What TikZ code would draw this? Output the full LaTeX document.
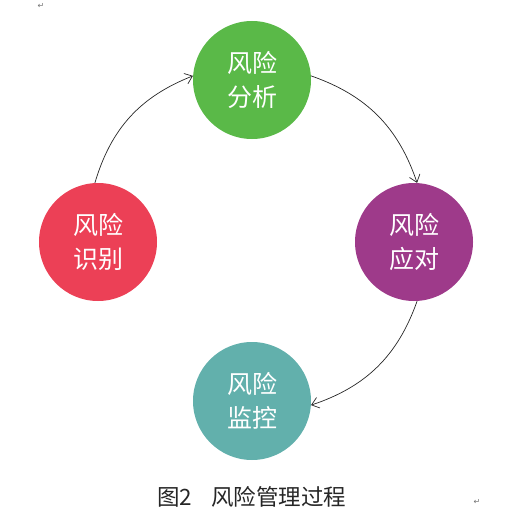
\documentclass[tikz,border=0pt]{standalone}
\usepackage{fontspec}
\newfontfamily\cjk{Noto Sans CJK SC}
\newfontfamily\sym{DejaVu Sans}
\usetikzlibrary{arrows.meta}
\definecolor{cgreen}{RGB}{90,185,72}
\definecolor{cred}{RGB}{236,64,86}
\definecolor{cpurple}{RGB}{158,58,138}
\definecolor{cteal}{RGB}{98,176,172}
\begin{document}
\begin{tikzpicture}[x=1pt,y=-1pt,
  stage/.style={circle,minimum size=118pt,inner sep=0pt,fill=#1,text=white,
    font=\cjk\fontsize{25}{34}\selectfont,align=center},
  flow/.style={-{Straight Barb[length=7pt,width=11pt]},line width=0.7pt,black!85},
  retmark/.style={text=black!55,font=\sym\fontsize{8}{9}\selectfont,inner sep=0pt}]
\useasboundingbox (0,0) rectangle (522,532);
\node[stage=cgreen] (fx) at (252,80) {风险\\分析};
\node[stage=cred] (sb) at (98,242) {风险\\识别};
\node[stage=cpurple] (yd) at (414,242) {风险\\应对};
\node[stage=cteal] (jk) at (252,401) {风险\\监控};
\draw[flow] (sb.93) to[bend left=26] (fx.176);
\draw[flow] (fx.4) to[bend left=26] (yd.87);
\draw[flow] (yd.-87) to[bend left=26] (jk.-4);
\node[font=\cjk\fontsize{22.5}{26}\selectfont,text=black!85,anchor=west,inner sep=0pt] (cap) at (157,497) {图2\hspace{0.85em}风险管理过程};
\node[retmark] (m1) at (41,6) {↵};
\node[retmark] (m2) at (477,502) {↵};
\end{tikzpicture}
\end{document}
